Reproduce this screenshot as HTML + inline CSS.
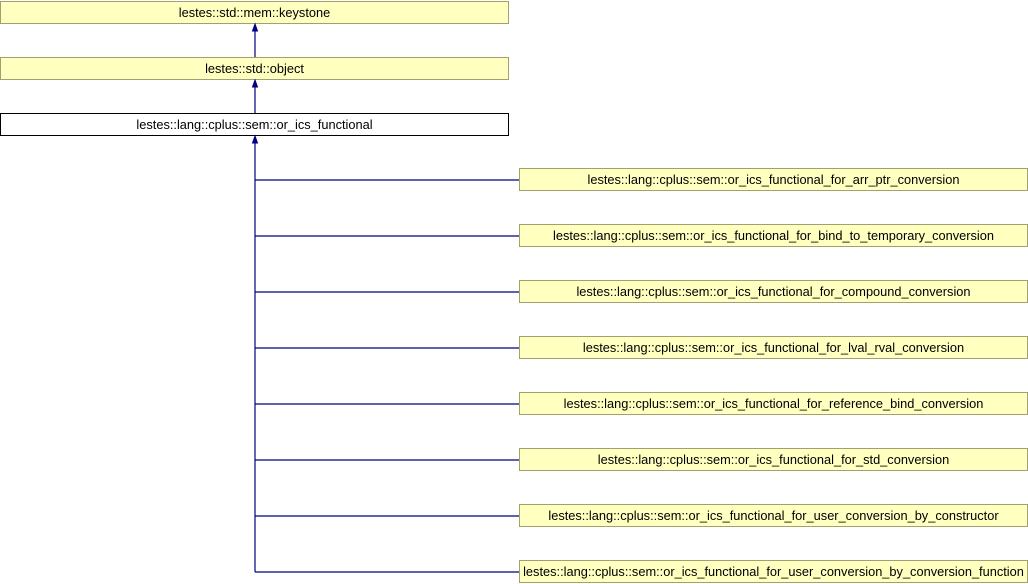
<!DOCTYPE html>
<html><head><style>
body{margin:0;width:1028px;height:584px;background:#fff;position:relative;overflow:hidden;font-family:"Liberation Sans",sans-serif;font-size:12.8px}
.b{position:absolute;box-sizing:border-box;height:23px;background:#ffffc0;border:1px solid #a0a070;text-align:center;line-height:21px;color:#000;white-space:nowrap}
.w{background:#fff;border-color:#000}
</style></head><body>
<div class="b" style="left:0;top:1px;width:509px">lestes::std::mem::keystone</div>
<div class="b" style="left:0;top:57px;width:509px">lestes::std::object</div>
<div class="b w" style="left:0;top:113px;width:509px">lestes::lang::cplus::sem::or_ics_functional</div>
<div class="b" style="left:519px;top:168px;width:509px">lestes::lang::cplus::sem::or_ics_functional_for_arr_ptr_conversion</div>
<div class="b" style="left:519px;top:224px;width:509px">lestes::lang::cplus::sem::or_ics_functional_for_bind_to_temporary_conversion</div>
<div class="b" style="left:519px;top:280px;width:509px">lestes::lang::cplus::sem::or_ics_functional_for_compound_conversion</div>
<div class="b" style="left:519px;top:336px;width:509px">lestes::lang::cplus::sem::or_ics_functional_for_lval_rval_conversion</div>
<div class="b" style="left:519px;top:392px;width:509px">lestes::lang::cplus::sem::or_ics_functional_for_reference_bind_conversion</div>
<div class="b" style="left:519px;top:448px;width:509px">lestes::lang::cplus::sem::or_ics_functional_for_std_conversion</div>
<div class="b" style="left:519px;top:504px;width:509px">lestes::lang::cplus::sem::or_ics_functional_for_user_conversion_by_constructor</div>
<div class="b" style="left:519px;top:560px;width:509px">lestes::lang::cplus::sem::or_ics_functional_for_user_conversion_by_conversion_function</div>
<svg width="1028" height="584" style="position:absolute;left:0;top:0" fill="#000080" stroke="#000080">
<g stroke-width="1.2">
<line x1="255" y1="28" x2="255" y2="57"/>
<line x1="255" y1="84" x2="255" y2="113"/>
<line x1="255" y1="140" x2="255" y2="572"/>
<line x1="255" y1="180" x2="519" y2="180"/>
<line x1="255" y1="236" x2="519" y2="236"/>
<line x1="255" y1="292" x2="519" y2="292"/>
<line x1="255" y1="348" x2="519" y2="348"/>
<line x1="255" y1="404" x2="519" y2="404"/>
<line x1="255" y1="460" x2="519" y2="460"/>
<line x1="255" y1="516" x2="519" y2="516"/>
<line x1="255" y1="572" x2="519" y2="572"/>
</g>
<polygon points="255,24 252.5,31 257.5,31"/>
<polygon points="255,80 252.5,87 257.5,87"/>
<polygon points="255,136 252.5,143 257.5,143"/>
</svg>
</body></html>
